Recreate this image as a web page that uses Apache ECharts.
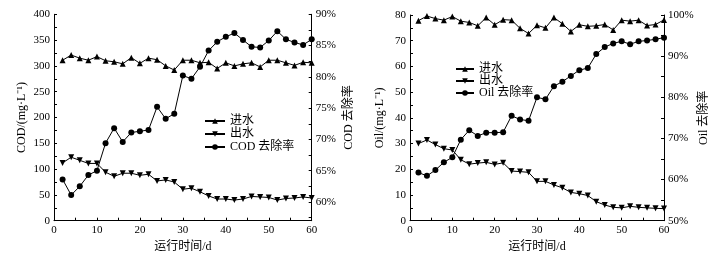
<!DOCTYPE html>
<html>
<head>
<meta charset="utf-8">
<script src="https://cdn.jsdelivr.net/npm/echarts@6/dist/echarts.min.js"></script>
<style>
	html, body { margin: 0; padding: 0; background: #fff; }
	#chart { width: 718px; height: 263px; }
</style>
</head>
<body>
<div id="chart"></div>
<script>
// days of operation (same for both panels)
var days = [2, 4, 6, 8, 10, 12, 14, 16, 18, 20, 22, 24, 26, 28, 30,
	32, 34, 36, 38, 40, 42, 44, 46, 48, 50, 52, 54, 56, 58, 60];

// COD panel, mg/L and %
var codIn = [311, 321, 315, 311, 318, 310, 308, 304, 316, 305, 315, 312, 300, 292, 311,
	311, 306, 307, 295, 306, 300, 304, 306, 298, 311, 311, 306, 301, 307, 306];
var codOut = [112, 123, 117, 111, 111, 94, 86, 92, 92, 88, 90, 77, 79, 75, 61,
	63, 56, 48, 42, 42, 40, 42, 47, 46, 45, 40, 43, 44, 46, 44];
var codRate = [63.6, 61.1, 62.5, 64.3, 65.0, 69.4, 71.8, 69.6, 71.1, 71.3, 71.5, 75.2, 73.3, 74.1, 80.2,
	79.7, 81.6, 84.2, 85.6, 86.4, 87.0, 85.9, 84.8, 84.7, 85.8, 87.3, 86.0, 85.5, 85.1, 86.0];

// Oil panel, mg/L and %
var oilIn = [77.8, 79.6, 78.6, 78.0, 79.4, 77.6, 77.1, 75.8, 79.0, 76.2, 78.2, 78.0, 74.8, 72.8, 76.0,
	75.0, 79.0, 76.6, 73.6, 76.2, 75.6, 75.8, 76.3, 74.2, 78.0, 77.6, 78.0, 75.9, 76.3, 78.1];
var oilOut = [30.0, 31.4, 29.6, 28.0, 27.5, 23.7, 22.0, 22.4, 22.7, 21.9, 22.5, 19.3, 19.1, 18.8, 15.3,
	15.3, 13.9, 12.8, 11.0, 10.5, 9.8, 7.4, 6.1, 5.2, 5.0, 5.6, 5.2, 5.0, 4.8, 4.7];
var oilRate = [61.7, 60.9, 62.3, 64.2, 65.4, 69.7, 72.0, 70.6, 71.4, 71.4, 71.5, 75.5, 74.6, 74.3, 80.0,
	79.5, 82.7, 83.8, 85.2, 86.6, 87.1, 90.5, 92.2, 93.1, 93.6, 92.9, 93.6, 93.8, 94.1, 94.5];

var codRateTicks = [57.5, 60, 62.5, 65, 67.5, 70, 72.5, 75, 77.5, 80, 82.5, 85, 87.5, 90];
var codRateLabels = [60, 65, 70, 75, 80, 85, 90];

var FONT = "'Liberation Serif', 'Noto Sans CJK SC', serif";

function pairs(xs, ys) {
	var out = [];
	for (var i = 0; i < xs.length; i++) {
		out.push([xs[i], ys[i]]);
	}
	return out;
}

function xAxisOf(grid) {
	return {
		type: 'value', gridIndex: grid, min: 0, max: 60, interval: 10,
		name: '运行时间/d', nameLocation: 'middle', nameGap: 19,
		nameTextStyle: { fontFamily: FONT, fontSize: 12, color: '#000' },
		axisLine: { lineStyle: { color: '#000', width: 1 } },
		axisTick: { inside: true, length: 3, lineStyle: { color: '#000' } },
		minorTick: { show: true, splitNumber: 2, length: 3, lineStyle: { color: '#000' } },
		axisLabel: { fontFamily: FONT, fontSize: 11, color: '#000', margin: 4 },
		splitLine: { show: false }
	};
}

function yAxisOf(grid, opts) {
	var ax = {
		type: 'value', gridIndex: grid, position: opts.position,
		min: opts.min, max: opts.max,
		name: opts.name, nameLocation: 'middle', nameGap: opts.nameGap,
		nameTextStyle: { fontFamily: FONT, fontSize: 12, color: '#000' },
		axisLine: { show: true, lineStyle: { color: '#000', width: 1 } },
		axisTick: { show: true, inside: true, length: 3, lineStyle: { color: '#000' } },
		minorTick: { show: true, splitNumber: 2, length: 3, lineStyle: { color: '#000' } },
		axisLabel: { fontFamily: FONT, fontSize: 11, color: '#000', margin: 4 },
		splitLine: { show: false }
	};
	if (opts.interval != null) ax.interval = opts.interval;
	if (opts.percent) ax.axisLabel.formatter = '{value}%';
	return ax;
}

function lineSeries(name, xi, yi, data, symbol, rotate) {
	return {
		type: 'line', name: name, xAxisIndex: xi, yAxisIndex: yi,
		data: data, symbol: symbol, symbolSize: 6, symbolRotate: rotate || 0,
		lineStyle: { color: '#000', width: 1 },
		itemStyle: { color: '#000' }
	};
}

var rateAxis = yAxisOf(0, { position: 'right', min: 57, max: 90, name: 'COD 去除率', nameGap: 31, percent: true });
rateAxis.minorTick.show = false;
rateAxis.axisTick.customValues = codRateTicks;
rateAxis.axisLabel.customValues = codRateLabels;

var legendText = { fontFamily: FONT, fontSize: 12, color: '#000' };

var option = {
	animation: false,
	backgroundColor: '#fff',
	grid: [
		{ left: 54, top: 14.3, width: 257.7, height: 206.4, outerBoundsMode: 'none' },
		{ left: 410, top: 15, width: 254, height: 205.7, outerBoundsMode: 'none' }
	],
	legend: [
		{
			orient: 'vertical', left: 199, top: 110, itemGap: 1, itemWidth: 20, itemHeight: 7,
			data: ['进水', '出水', 'COD 去除率'], textStyle: legendText, selectedMode: false
		},
		{
			orient: 'vertical', left: 450, top: 58, itemGap: 0, itemWidth: 18, itemHeight: 7,
			data: ['进水', '出水', 'Oil 去除率'], textStyle: legendText, selectedMode: false
		}
	],
	xAxis: [xAxisOf(0), xAxisOf(1)],
	yAxis: [
		yAxisOf(0, { position: 'left', min: 0, max: 400, interval: 50, name: 'COD/(mg·L⁻¹)', nameGap: 26 }),
		rateAxis,
		yAxisOf(1, { position: 'left', min: 0, max: 80, interval: 10, name: 'Oil/(mg·L⁻¹)', nameGap: 24 }),
		yAxisOf(1, { position: 'right', min: 50, max: 100, interval: 10, name: 'Oil 去除率', nameGap: 32, percent: true })
	],
	series: [
		lineSeries('进水', 0, 0, pairs(days, codIn), 'triangle'),
		lineSeries('出水', 0, 0, pairs(days, codOut), 'triangle', 180),
		lineSeries('COD 去除率', 0, 1, pairs(days, codRate), 'circle'),
		lineSeries('进水', 1, 2, pairs(days, oilIn), 'triangle'),
		lineSeries('出水', 1, 2, pairs(days, oilOut), 'triangle', 180),
		lineSeries('Oil 去除率', 1, 3, pairs(days, oilRate), 'circle')
	]
};

var myChart = echarts.init(document.getElementById('chart'));
myChart.setOption(option);
</script>
</body>
</html>
